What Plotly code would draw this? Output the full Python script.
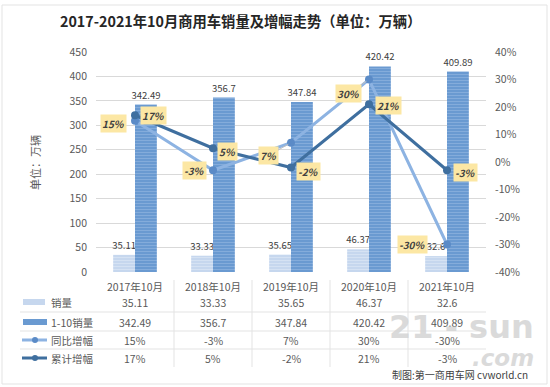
import plotly.graph_objects as go

# ---------------- data ----------------
months = ['2017年10月', '2018年10月', '2019年10月', '2020年10月', '2021年10月']
oct_sales = [35.11, 33.33, 35.65, 46.37, 32.6]          # 销量
ytd_sales = [342.49, 356.7, 347.84, 420.42, 409.89]     # 1-10销量
yoy_growth = [15, -3, 7, 30, -30]                        # 同比增幅 (%)
ytd_growth = [17, 5, -2, 21, -3]                         # 累计增幅 (%)
left_ticks = [0, 50, 100, 150, 200, 250, 300, 350, 400, 450]
right_ticks = [-40, -30, -20, -10, 0, 10, 20, 30, 40]
row_names = ['销量', '1-10销量', '同比增幅', '累计增幅']

# ---------------- style ----------------
W, H = 550, 387
FONT = 'Noto Sans CJK SC'
TXT = '#595959'
LIGHT = '#C6D7EE'
DARK = '#6A9AD1'
YOY_LINE = '#8DB3E2'
YOY_MARK = '#5B8BC7'
CUM = '#3F6F9F'
BOX = '#FCE7A4'
GRID = '#D9D9D9'


def px(x):
    return x / W


def py(y):
    return 1 - y / H


def note(x, y, text, size=10.5, color=TXT, xa='center', ya='middle', xref='paper', **kw):
    return dict(x=px(x) if xref == 'paper' else x, y=py(y), xref=xref, yref='paper',
                showarrow=False, xanchor=xa, yanchor=ya, text=text,
                font=dict(size=size, color=color, family=kw.pop('family', FONT),
                          weight=kw.pop('weight', 'normal')), **kw)


fig = go.Figure()

fig.add_trace(go.Bar(
    x=months, y=oct_sales, name='销量', offsetgroup='a',
    marker=dict(color=LIGHT, line=dict(width=0),
                pattern=dict(shape='-', fgcolor='#E8EFF9', size=3, solidity=0.3)),
    text=[str(v) for v in oct_sales], textposition='outside', constraintext='none',
    textfont=dict(size=9.5, color='#404040', family=FONT), cliponaxis=False,
    showlegend=False, hoverinfo='skip'))
fig.add_trace(go.Bar(
    x=months, y=ytd_sales, name='1-10销量', offsetgroup='b',
    marker=dict(color=DARK, line=dict(width=0),
                pattern=dict(shape='-', fgcolor='#A4C2E8', size=3, solidity=0.3)),
    text=[str(v) for v in ytd_sales], textposition='outside', constraintext='none',
    textfont=dict(size=9.5, color='#404040', family=FONT), cliponaxis=False,
    showlegend=False, hoverinfo='skip'))
fig.add_trace(go.Scatter(
    x=months, y=yoy_growth, yaxis='y2', mode='lines+markers', name='同比增幅',
    line=dict(color=YOY_LINE, width=3), marker=dict(color=YOY_MARK, size=8),
    showlegend=False, cliponaxis=False, hoverinfo='skip'))
fig.add_trace(go.Scatter(
    x=months, y=ytd_growth, yaxis='y2', mode='lines+markers', name='累计增幅',
    line=dict(color=CUM, width=3), marker=dict(color=CUM, size=8),
    showlegend=False, cliponaxis=False, hoverinfo='skip'))

annotations = []

# yellow percent boxes: pixel offsets of each box from its point
yoy_off = [(-22, 3), (-19, 0), (-23, 13), (-21, 14), (-35, 0)]
yoy_leader = [False, False, True, True, True]
cum_off = [(18, 0), (14, 3), (17, 4), (19, 1), (18, 2)]
for m, v, (ax, ay), lead in zip(months, yoy_growth, yoy_off, yoy_leader):
    annotations.append(dict(
        x=m, y=v, xref='x', yref='y2', text=f'<i>{v}%</i>', showarrow=True,
        ax=ax, ay=ay, arrowhead=0, arrowwidth=1,
        arrowcolor='#BFBFBF' if lead else 'rgba(0,0,0,0)', standoff=3,
        bgcolor=BOX, borderpad=1,
        font=dict(size=10, color='#404040', family=FONT, weight='bold')))
for m, v, (ax, ay) in zip(months, ytd_growth, cum_off):
    annotations.append(dict(
        x=m, y=v, xref='x', yref='y2', text=f'<i>{v}%</i>', showarrow=True,
        ax=ax, ay=ay, arrowhead=0, arrowwidth=1, arrowcolor='rgba(0,0,0,0)',
        bgcolor=BOX, borderpad=1,
        font=dict(size=10, color='#404040', family=FONT, weight='bold')))

# title and axis title
annotations.append(note(240, 20, '2017-2021年10月商用车销量及增幅走势（单位：万辆）',
                        size=14.3, color='#262626', weight='bold'))
annotations.append(note(35, 162, '单位：万辆', size=11, textangle=-90))

# data table (columns follow the category axis)
row_y = [302, 322, 340, 358]
rows = [[str(v) for v in oct_sales], [str(v) for v in ytd_sales],
        [f'{v}%' for v in yoy_growth], [f'{v}%' for v in ytd_growth]]
for i, m in enumerate(months):
    annotations.append(note(m, 286, m, xref='x'))
    for r, ry in zip(rows, row_y):
        annotations.append(note(m, ry, r[i], xref='x'))
for name, ry in zip(row_names, row_y):
    annotations.append(note(49, ry, name, xa='left'))

# watermark & credit
annotations.append(note(461, 327, '<b>21 - sun</b>', size=32, color='#D2D2D2',
                        family='DejaVu Sans', opacity=0.8))
annotations.append(note(503, 358, '<b><i>.com</i></b>', size=23, color='#D2D2D2',
                        family='DejaVu Sans', opacity=0.8))
annotations.append(note(530, 374, '制图:第一商用车网 cvworld.cn', size=10, color='#404040',
                        xa='right'))

shapes = []
# outer border
shapes.append(dict(type='rect', xref='paper', yref='paper', x0=px(2), x1=px(547),
                   y0=py(384), y1=py(5), line=dict(color='#E3E3E3', width=1)))
# table lines
for ly in [312, 331, 349]:
    shapes.append(dict(type='line', xref='paper', yref='paper', x0=px(20), x1=px(486),
                       y0=py(ly), y1=py(ly), line=dict(color='#E3E3E3', width=1)))
for i in range(len(months) - 1):
    shapes.append(dict(type='line', xref='x', yref='paper', x0=i + 0.5, x1=i + 0.5,
                       y0=py(280), y1=py(367), line=dict(color='#E3E3E3', width=1)))
# legend glyphs in table
shapes.append(dict(type='rect', xref='paper', yref='paper', x0=px(23), x1=px(45),
                   y0=py(305), y1=py(299), fillcolor=LIGHT, line=dict(width=0)))
shapes.append(dict(type='rect', xref='paper', yref='paper', x0=px(23), x1=px(47),
                   y0=py(325), y1=py(319), fillcolor=DARK, line=dict(width=0)))
for ry, lc, mc in [(340, YOY_LINE, YOY_MARK), (358, CUM, CUM)]:
    shapes.append(dict(type='line', xref='paper', yref='paper', x0=px(22), x1=px(47),
                       y0=py(ry), y1=py(ry), line=dict(color=lc, width=3)))
    shapes.append(dict(type='circle', xref='paper', yref='paper', x0=px(32), x1=px(38),
                       y0=py(ry + 3), y1=py(ry - 3), fillcolor=mc, line=dict(width=0)))

fig.update_layout(
    width=W, height=H, autosize=False,
    margin=dict(l=0, r=0, t=0, b=0, pad=0, autoexpand=False),
    paper_bgcolor='white', plot_bgcolor='white',
    barmode='group', bargap=0.44, bargroupgap=0, hovermode=False,
    font=dict(family=FONT, color=TXT),
    xaxis=dict(domain=[px(96), px(486)], type='category', showticklabels=False,
               showgrid=False, zeroline=False, showline=False, ticks='', automargin=False),
    yaxis=dict(domain=[py(272), py(52)], range=[0, 450], tickvals=left_ticks,
               showgrid=True, gridcolor=GRID, gridwidth=1, zeroline=False,
               showline=False, ticks='', ticklabelstandoff=8, automargin=False,
               tickfont=dict(size=10.5, color=TXT, family=FONT)),
    yaxis2=dict(overlaying='y', side='right', range=[-40, 40], tickvals=right_ticks,
                ticktext=[f'{t}%' for t in right_ticks],
                showgrid=False, zeroline=False, showline=False, automargin=False,
                ticks='', ticklabelstandoff=8,
                tickfont=dict(size=10.5, color=TXT, family=FONT)),
    annotations=annotations, shapes=shapes,
)

# remove the page's default body margin so the figure sits at the window's corner
fig.write_html('out.html', config={'displayModeBar': False, 'staticPlot': True},
               post_script="document.body.style.margin='0px';")
